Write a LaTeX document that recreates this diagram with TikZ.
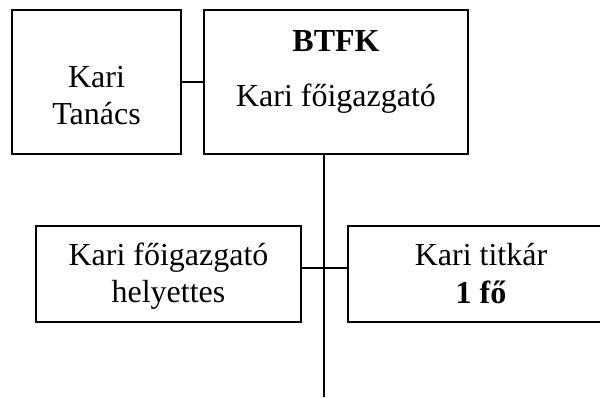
\documentclass[tikz,border=0pt]{standalone}
\usepackage{fontspec}
\setmainfont{Liberation Serif}
\tikzset{
  box/.style={draw, line width=1.1pt, inner sep=0pt, outer sep=0pt},
  txt/.style={anchor=base, inner sep=0pt, font=\fontsize{24}{28}\selectfont},
  link/.style={line width=1.1pt}
}
\begin{document}
\begin{tikzpicture}[x=0.75pt, y=-0.75pt]
\useasboundingbox (0,0) rectangle (600,397);
\clip (0,0) rectangle (600,397);

\node[box, minimum width=126.75pt, minimum height=108pt] (tanacs) at (96.5,82) {};
\node[box, minimum width=198pt, minimum height=108pt] (btfk) at (336,82) {};
\node[box, minimum width=198.75pt, minimum height=72pt] (helyettes) at (168.5,274) {};
\node[box, minimum width=199.5pt, minimum height=72pt] (titkar) at (481,274) {};

\node[txt] (tanacsA) at (96.5,87) {Kari};
\node[txt] (tanacsB) at (96.5,124) {Tanács};
\node[txt] (btfkA) at (336,51) {\bfseries BTFK};
\node[txt] (btfkB) at (336,106) {Kari főigazgató};
\node[txt] (helyettesA) at (168.5,265) {Kari főigazgató};
\node[txt] (helyettesB) at (168.5,302) {helyettes};
\node[txt] (titkarA) at (481,265) {Kari titkár};
\node[txt] (titkarB) at (481,303) {\bfseries 1 fő};

\coordinate (junction) at (324,268);
\coordinate (end) at (324,397);

\draw[link] (tanacs) -- (btfk);
\draw[link] (btfk.south -| end) -- (end);
\draw[link] (helyettes.east |- junction) -- (titkar.west |- junction);
\end{tikzpicture}
\end{document}
